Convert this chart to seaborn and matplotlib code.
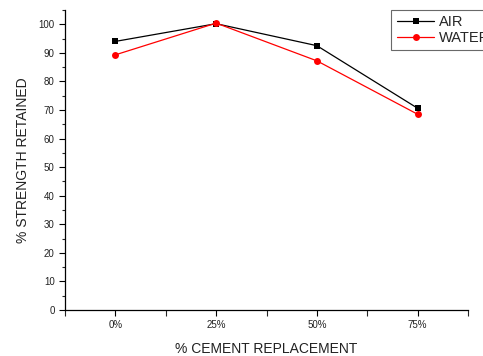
import pandas as pd
import matplotlib.pyplot as plt
import seaborn as sns
from matplotlib.ticker import MultipleLocator

replacement = ["0%", "25%", "50%", "75%"]
air = [94.0, 100.2, 92.5, 70.6]
water = [89.3, 100.4, 87.2, 68.5]

sns.set_style("white")
plt.rcParams['font.family'] = ['Liberation Sans', 'DejaVu Sans']

df = pd.DataFrame({
    "pos": list(range(len(replacement))) * 2,
    "value": air + water,
    "series": ["AIR"] * 4 + ["WATER"] * 4,
})

fig = plt.figure(figsize=(4.83, 3.56), dpi=100)
ax = fig.add_axes([0.1346, 0.1292, 0.8344, 0.8428])

sns.lineplot(data=df, x="pos", y="value", hue="series", style="series",
             palette={"AIR": "black", "WATER": "red"},
             markers={"AIR": "s", "WATER": "o"}, dashes=False,
             markersize=5, markeredgewidth=0, linewidth=0.9, ax=ax)

ax.set_xlim(-0.5, 3.5)
ax.set_ylim(0, 105)
ax.set_xticks(range(len(replacement)))
ax.set_xticklabels(replacement)
ax.xaxis.set_minor_locator(MultipleLocator(0.5))
ax.yaxis.set_major_locator(MultipleLocator(10))
ax.yaxis.set_minor_locator(MultipleLocator(5))
ax.tick_params(axis="both", which="major", direction="out", length=4, width=0.8,
               labelsize=7, bottom=True, left=True, colors="black",
               labelcolor="#222222")
ax.tick_params(axis="both", which="minor", direction="out", length=2, width=0.8,
               bottom=True, left=True)
ax.tick_params(axis="x", which="minor", length=4)
for s in ["top", "right"]:
    ax.spines[s].set_visible(False)
for s in ["left", "bottom"]:
    ax.spines[s].set_color("black")
    ax.spines[s].set_linewidth(0.9)

ax.set_xlabel("% CEMENT REPLACEMENT", fontsize=10, labelpad=8, color="#222222")
ax.set_ylabel("% STRENGTH RETAINED", fontsize=10, labelpad=6, color="#222222")

leg = ax.legend(title=None, loc="upper left", bbox_to_anchor=(0.81, 1.0),
                fontsize=10.5, frameon=True, fancybox=False, borderpad=0.35,
                handlelength=2.6, handletextpad=0.3, labelspacing=0.15,
                borderaxespad=0)
leg.get_frame().set_edgecolor("#444444")
leg.get_frame().set_linewidth(0.8)

fig.savefig("out.png", dpi=100)
